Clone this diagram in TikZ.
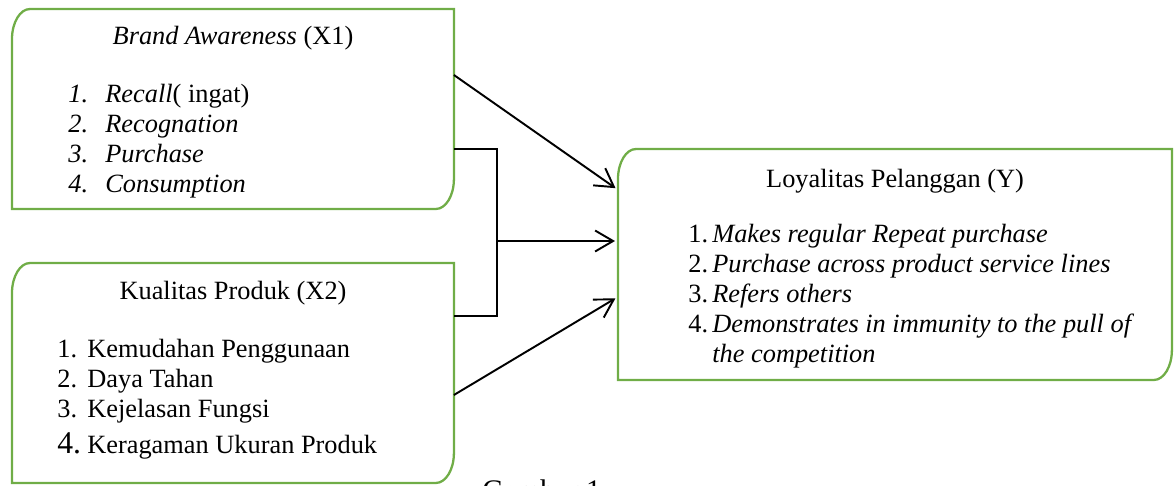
\documentclass[tikz,border=0pt]{standalone}
\usepackage{fontspec}
\setmainfont{Liberation Serif}
\usepackage{tikz}
\usetikzlibrary{positioning,calc,arrows.meta}
\definecolor{framegreen}{HTML}{70AD47}

% outline with two rounded corners (top left, bottom right)
\newcommand{\diagframe}[1]{%
  \draw[boxline] (#1.south west) -- ([yshift=-0.6cm]#1.north west)
    arc[start angle=180,end angle=90,x radius=0.36cm,y radius=0.6cm]
    -- (#1.north east) -- ([yshift=0.6cm]#1.south east)
    arc[start angle=0,end angle=-90,x radius=0.36cm,y radius=0.6cm]
    -- cycle;}

\begin{document}
\begin{tikzpicture}[x=0.02cm,y=0.02cm,
    varbox/.style={rectangle,inner sep=0pt,outer sep=0pt,anchor=north west},
    boxline/.style={draw=framegreen,line width=1.3pt},
    boxtitle/.style={font=\fontsize{15}{17.2}\selectfont,anchor=base,inner sep=0pt},
    boxitems/.style={font=\fontsize{15}{17.2}\selectfont,anchor=base west,inner sep=0pt},
    linkline/.style={draw=black,line width=1.1pt},
    flowarrow/.style={linkline,-{Straight Barb[length=0.36cm,width=0.42cm]},shorten >=0.06cm},
    figcaption/.style={font=\fontsize{17}{20}\selectfont,anchor=base west,inner sep=0pt},
  ]
    \clip (0,0) rectangle (1175,-485);

    % the three variable boxes
    \node[varbox,minimum width=8.84cm,minimum height=4cm]    (awareness) at (12,-9) {};
    \node[varbox,minimum width=8.84cm,minimum height=4.4cm]  (kualitas)  at (12,-263) {};
    \node[varbox,minimum width=11.08cm,minimum height=4.62cm] (loyalitas) at (618,-149) {};
    \diagframe{awareness}
    \diagframe{kualitas}
    \diagframe{loyalitas}

    % Brand Awareness (X1)
    \node[boxtitle] (awtitle) at (233,-44) {\textit{Brand Awareness} (X1)};
    \node[boxitems] (awlist) at (68,-102) {\begin{tabular}[t]{@{}p{0.74cm}@{}l@{}}
        \textit{1.} & \textit{Recall}( ingat)\\
        \textit{2.} & \textit{Recognation}\\
        \textit{3.} & \textit{Purchase}\\
        \textit{4.} & \textit{Consumption}
      \end{tabular}};

    % Kualitas Produk (X2)
    \node[boxtitle] (kptitle) at (233,-299) {Kualitas Produk (X2)};
    \node[boxitems] (kplist) at (57,-357) {\begin{tabular}[t]{@{}p{0.6cm}@{}l@{}}
        1. & Kemudahan Penggunaan\\
        2. & Daya Tahan\\
        3. & Kejelasan Fungsi\\[3.4pt]
        {\fontsize{18}{20}\selectfont 4.} & Keragaman Ukuran Produk
      \end{tabular}};

    % Loyalitas Pelanggan (Y)
    \node[boxtitle] (lytitle) at (895,-187) {Loyalitas Pelanggan (Y)};
    \node[boxitems] (lylist) at (688,-242) {\begin{tabular}[t]{@{}p{0.48cm}@{}l@{}}
        1. & \textit{Makes regular Repeat purchase}\\
        2. & \textit{Purchase across product service lines}\\
        3. & \textit{Refers others}\\
        4. & \textit{Demonstrates in immunity to the pull of}\\
           & \textit{the competition}
      \end{tabular}};

    % connectors
    \coordinate (join) at (497,-241);
    \draw[flowarrow] ($(awareness.north east)!0.33!(awareness.south east)$)
      -- ($(loyalitas.north west)!0.177!(loyalitas.south west)$);
    \draw[linkline] ($(awareness.north east)!0.70!(awareness.south east)$)
      -| (join) |- ($(kualitas.north east)!0.24!(kualitas.south east)$);
    \draw[flowarrow] (join) -- (join -| loyalitas.west);
    \draw[flowarrow] ($(kualitas.north east)!0.6!(kualitas.south east)$)
      -- ($(loyalitas.north west)!0.64!(loyalitas.south west)$);

    \node[figcaption] (caption) at (482,-500) {Gambar 1};
  \end{tikzpicture}
\end{document}
